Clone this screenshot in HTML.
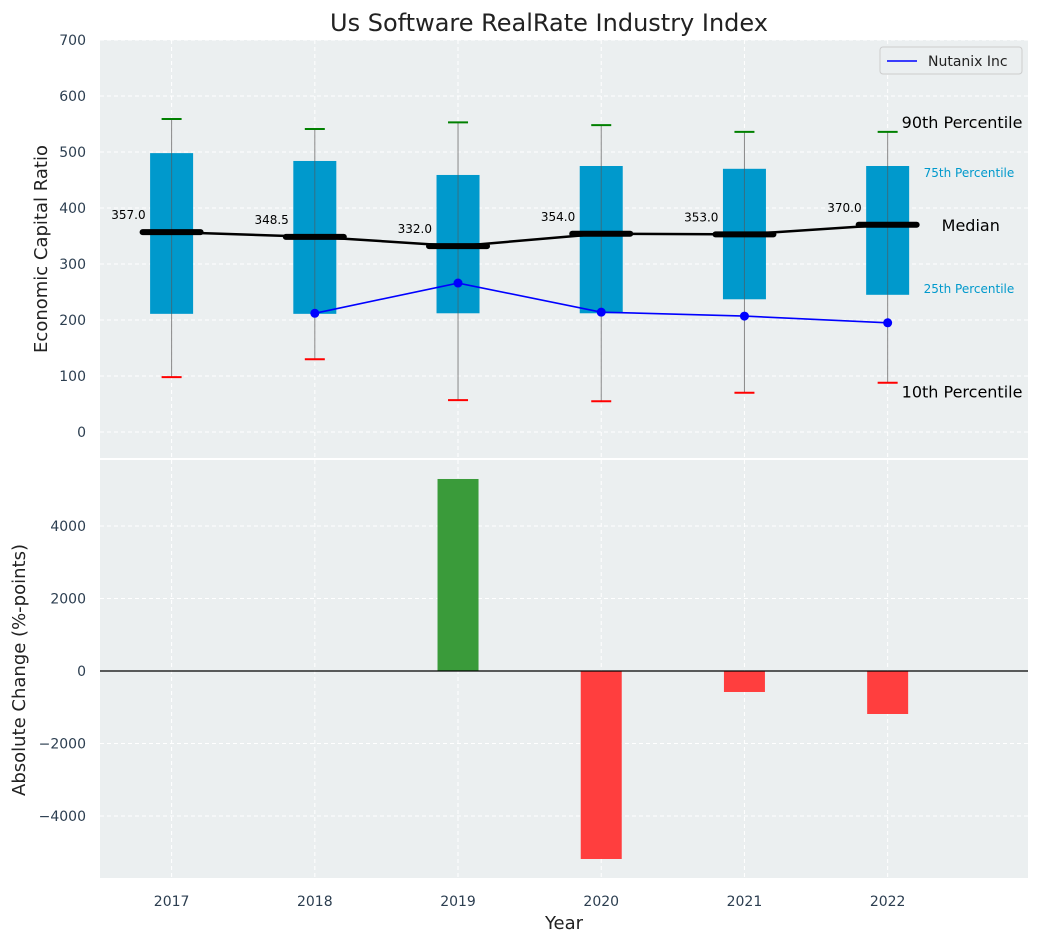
<!DOCTYPE html>
<html><head><meta charset="utf-8"><style>
body{margin:0;background:#fff;font-family:"Liberation Sans","DejaVu Sans",sans-serif}
svg text{font-family:"DejaVu Sans","Liberation Sans",sans-serif}
</style></head><body>
<svg id="chart" width="1039" height="942" xmlns="http://www.w3.org/2000/svg"></svg>
<script>
const years=[2017,2018,2019,2020,2021,2022];
const p10=[98,130,57,55,70,88];
const p25=[211,211,212,212,237,245];
const median=[357,348.5,332,354,353,370];
const p75=[498,484,459,475,470,475];
const p90=[559,541,553,548,536,536];
const company=[null,212,266,214,207,195];
const changes=[0,0,5297,-5186,-579,-1186];
const topTicks=[0,100,200,300,400,500,600,700];
const botTicks=[-4000,-2000,0,2000,4000];

const svg=document.getElementById('chart');
const NS='http://www.w3.org/2000/svg';
function el(tag,attrs,parent,text){const e=document.createElementNS(NS,tag);for(const k in attrs)e.setAttribute(k,attrs[k]);if(text!=null)e.textContent=text;(parent||svg).appendChild(e);return e;}
const L=100,R=1028;
const x=v=>L+(v-2016.5)/(2022.98-2016.5)*(R-L);
const yT=v=>432-v*0.56;
const yB=v=>671-v*0.03625;

const pt=el('rect',{x:L,y:40,width:R-L,height:418,fill:'#ebeff0'});

const pb=el('rect',{x:L,y:460,width:R-L,height:418,fill:'#ebeff0'});


topTicks.forEach(t=>{el('line',{x1:L,x2:R,y1:yT(t),y2:yT(t),stroke:'#fff','stroke-dasharray':'4,3'});
 const tx=el('text',{x:86,y:yT(t)+5,'text-anchor':'end','font-size':14,fill:'#2c3e50'},null,t);
 });
botTicks.forEach(t=>{el('line',{x1:L,x2:R,y1:yB(t),y2:yB(t),stroke:'#fff','stroke-dasharray':'4,3'});
 const tx=el('text',{x:86,y:yB(t)+5,'text-anchor':'end','font-size':14,fill:'#2c3e50'},null,t<0?'\u2212'+(-t):t);
 });
years.forEach(yr=>{
 el('line',{x1:x(yr),x2:x(yr),y1:40,y2:458,stroke:'#fff','stroke-dasharray':'4,3'});
 el('line',{x1:x(yr),x2:x(yr),y1:460,y2:878,stroke:'#fff','stroke-dasharray':'4,3'});
 const tx=el('text',{x:x(yr),y:906,'text-anchor':'middle','font-size':14,fill:'#2c3e50'},null,yr);
 
});

years.forEach((yr,i)=>{
 const cx=x(yr);
 const w=el('line',{x1:cx,x2:cx,y1:yT(p90[i]),y2:yT(p10[i]),stroke:'#888','stroke-width':1});
 
 const b=el('rect',{x:cx-21.5,y:yT(p75[i]),width:43,height:yT(p25[i])-yT(p75[i]),fill:'#0099cc'});
 
 el('line',{x1:cx,x2:cx,y1:yT(p75[i]),y2:yT(p25[i]),stroke:'#555','stroke-width':1,opacity:0.6});
 const c1=el('line',{x1:cx-10,x2:cx+10,y1:yT(p90[i]),y2:yT(p90[i]),stroke:'green','stroke-width':2});
 
 const c2=el('line',{x1:cx-10,x2:cx+10,y1:yT(p10[i]),y2:yT(p10[i]),stroke:'red','stroke-width':2});
 
});
const mp=el('polyline',{points:years.map((yr,i)=>x(yr)+','+yT(median[i])).join(' '),fill:'none',stroke:'#000','stroke-width':2.5});

years.forEach((yr,i)=>{
 const m=el('line',{x1:x(yr)-29,x2:x(yr)+29,y1:yT(median[i]),y2:yT(median[i]),stroke:'#000','stroke-width':6,'stroke-linecap':'round'});
 
 const t=el('text',{x:x(yr)-26,y:yT(median[i])-13,'text-anchor':'end','font-size':12,fill:'#000'},null,median[i].toFixed(1));
 
});
const pts=[];years.forEach((yr,i)=>{if(company[i]!=null)pts.push(x(yr)+','+yT(company[i]));});
const cl=el('polyline',{points:pts.join(' '),fill:'none',stroke:'blue','stroke-width':1.6});

years.forEach((yr,i)=>{if(company[i]==null)return;
 const d=el('circle',{cx:x(yr),cy:yT(company[i]),r:4.5,fill:'blue'});
 });

const lx=x(2022);
[['90th Percentile',lx+14,yT(p90[5])-4,16,'#000'],['75th Percentile',lx+36,yT(p75[5])+11,12,'#0099cc'],['Median',lx+54,yT(median[5])+6,16,'#000'],['25th Percentile',lx+36,yT(p25[5])-2,12,'#0099cc'],['10th Percentile',lx+14,yT(p10[5])+15,16,'#000']].forEach(a=>{
 const t=el('text',{x:a[1],y:a[2],'font-size':a[3],fill:a[4]},null,a[0]);
 
});

const lg=el('g',{});
el('rect',{x:880,y:47,width:142,height:27,fill:'#ebeff0',stroke:'#ccc',rx:3},lg);
el('line',{x1:887,x2:917,y1:61,y2:61,stroke:'blue','stroke-width':1.6},lg);
el('text',{x:928,y:66,'font-size':14,fill:'#222'},lg,'Nutanix Inc');

years.forEach((yr,i)=>{const v=changes[i];if(!v)return;
 const b=el('rect',{x:x(yr)-20.5,y:Math.min(yB(v),yB(0)),width:41,height:Math.abs(yB(v)-yB(0)),fill:v>0?'#3a9b3a':'#ff3e3e'});
 });
const zl=el('line',{x1:L,x2:R,y1:yB(0),y2:yB(0),stroke:'#000','stroke-width':1.3});


const tt=el('text',{x:549,y:31,'text-anchor':'middle','font-size':24,fill:'#222'},null,'Us Software RealRate Industry Index');

const xt=el('text',{x:564,y:929,'text-anchor':'middle','font-size':18,fill:'#222'},null,'Year');

const y1=el('text',{x:0,y:0,'text-anchor':'middle','font-size':18,fill:'#222',transform:'translate(47,249) rotate(-90)'},null,'Economic Capital Ratio');

const y2=el('text',{x:0,y:0,'text-anchor':'middle','font-size':18,fill:'#222',transform:'translate(25,670) rotate(-90)'},null,'Absolute Change (%-points)');

</script>
</body></html>
